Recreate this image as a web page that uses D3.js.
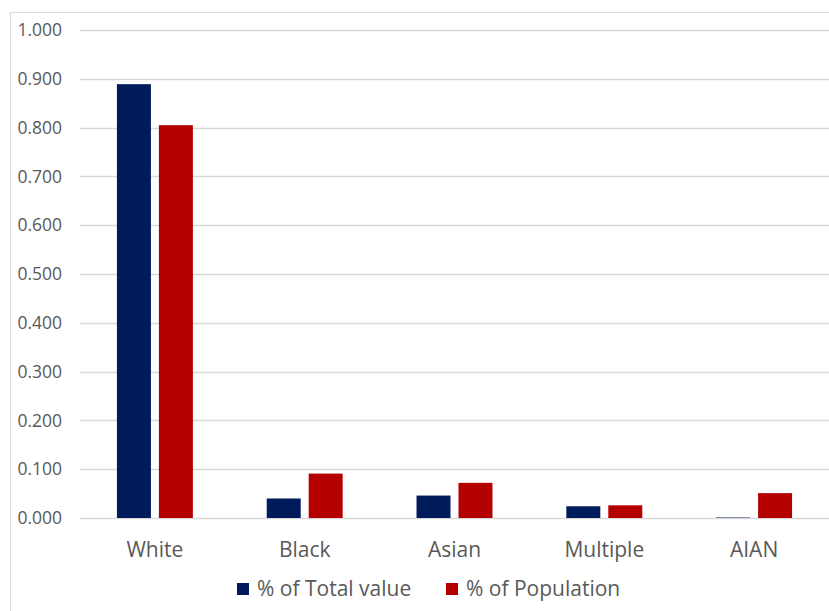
<!DOCTYPE html>
<html>
<head>
<meta charset="utf-8">
<script src="https://cdn.jsdelivr.net/npm/d3@7"></script>
<style>
  body { margin: 0; background: #fff; }
  text { font-family: "Open Sans", "Noto Sans", sans-serif; fill: #595959; }
</style>
</head>
<body>
<div id="chart"></div>
<script>
const categories = ['White', 'Black', 'Asian', 'Multiple', 'AIAN'];
const seriesNames = ['% of Total value', '% of Population'];
const totalValue = [0.889, 0.040, 0.046, 0.024, 0.001];
const population = [0.805, 0.091, 0.072, 0.026, 0.051];
const yTicks = [0, 0.1, 0.2, 0.3, 0.4, 0.5, 0.6, 0.7, 0.8, 0.9, 1.0];
const colors = ['#001B5C', '#B50000'];

const width = 829;
const height = 611;
const margin = { top: 30, right: 0, bottom: 93, left: 80 };

const svg = d3.select('#chart')
    .append('svg')
    .attr('width', width)
    .attr('height', height);

// chart area border (open at right / bottom like the crop)
svg.append('rect')
    .attr('x', 10.5)
    .attr('y', 12.5)
    .attr('width', width + 20)
    .attr('height', height + 20)
    .attr('fill', 'none')
    .attr('stroke', '#d9d9d9');

const y = d3.scaleLinear()
    .domain([0, 1])
    .range([height - margin.bottom, margin.top]);

const x0 = d3.scaleBand()
    .domain(categories)
    .range([margin.left, width - margin.right])
    .paddingInner(0)
    .paddingOuter(0);

const x1 = d3.scaleBand()
    .domain(seriesNames)
    .range([0, x0.bandwidth()])
    .paddingInner(0.19)
    .paddingOuter(0.88);

// gridlines
svg.append('g')
    .selectAll('line')
    .data(yTicks)
    .join('line')
    .attr('x1', margin.left)
    .attr('x2', width)
    .attr('y1', d => Math.round(y(d)) + 0.5)
    .attr('y2', d => Math.round(y(d)) + 0.5)
    .attr('stroke', '#d9d9d9')
    .attr('stroke-width', 1.3);

// y tick labels
svg.append('g')
    .selectAll('text')
    .data(yTicks)
    .join('text')
    .attr('x', 62)
    .attr('y', d => y(d))
    .attr('dy', '0.35em')
    .attr('text-anchor', 'end')
    .style('font-size', '17.5px')
    .text(d => d3.format('.3f')(d));

// bars
const rows = categories.map((c, i) => ({ cat: c, vals: [totalValue[i], population[i]] }));

svg.append('g')
    .selectAll('g')
    .data(rows)
    .join('g')
    .attr('transform', d => `translate(${x0(d.cat)},0)`)
    .selectAll('rect')
    .data(d => d.vals.map((v, j) => ({ key: seriesNames[j], v, j })))
    .join('rect')
    .attr('x', d => x1(d.key))
    .attr('width', x1.bandwidth())
    .attr('y', d => y(d.v))
    .attr('height', d => y(0) - y(d.v))
    .attr('fill', d => colors[d.j]);

// category labels
svg.append('g')
    .selectAll('text')
    .data(categories)
    .join('text')
    .attr('x', d => x0(d) + x0.bandwidth() / 2)
    .attr('y', 550)
    .attr('dy', '0.35em')
    .attr('text-anchor', 'middle')
    .style('font-size', '21px')
    .text(d => d);

// legend
const legend = svg.append('g').attr('transform', 'translate(237,589)');
const legendX = [0, 209];
seriesNames.forEach((name, i) => {
    const g = legend.append('g').attr('transform', `translate(${legendX[i]},0)`);
    g.append('rect')
        .attr('x', 0)
        .attr('y', -6)
        .attr('width', 12)
        .attr('height', 12)
        .attr('fill', colors[i]);
    g.append('text')
        .attr('x', 20)
        .attr('y', 0)
        .attr('dy', '0.35em')
        .style('font-size', '21px')
        .text(name);
});
</script>
</body>
</html>
